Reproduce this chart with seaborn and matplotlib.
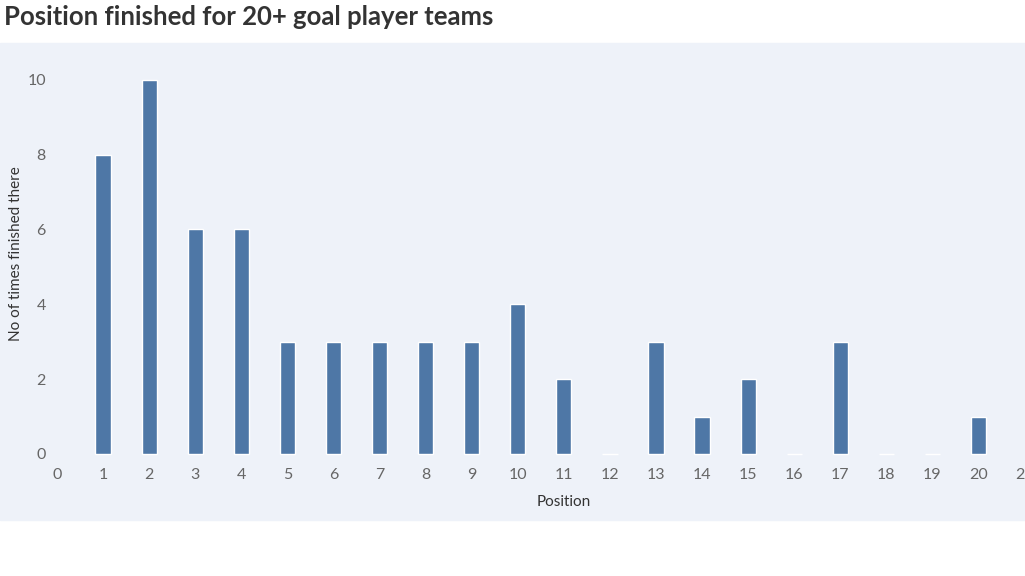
import matplotlib
matplotlib.use("Agg")
import matplotlib.pyplot as plt
import seaborn as sns
import pandas as pd
from matplotlib.patches import Rectangle

positions = list(range(1, 21))
counts = [8, 10, 6, 6, 3, 3, 3, 3, 3, 4, 2, 0, 3, 1, 2, 0, 3, 0, 0, 1]
xticks = list(range(0, 22))

sns.set_style("white")
plt.rcParams['font.family'] = ['Lato', 'DejaVu Sans']

fig = plt.figure(figsize=(10.25, 5.76), dpi=100)
fig.patches.append(Rectangle((0, 0.0972), 1, 0.828, transform=fig.transFigure,
                             color="#eef2f9", zorder=-10))
ax = fig.add_axes([0.0556, 0.198, 0.944, 0.698])
ax.set_facecolor("none")
df = pd.DataFrame({"Position": positions, "Count": counts})
sns.barplot(data=df, x="Position", y="Count", native_scale=True, width=0.33,
            color="#4e77a6", saturation=1, ax=ax)
ax.set_xlim(0, 20.617)
ax.set_ylim(-0.214, 10.53)
ax.set_xticks(xticks)
ax.set_yticks([0, 2, 4, 6, 8, 10])
ax.tick_params(axis="both", length=0, labelsize=11.5, colors="#666666")
ax.tick_params(axis="y", pad=8)
ax.tick_params(axis="x", pad=4)
for lbl in ax.get_xticklabels():
    lbl.set_clip_on(False)
for s in ax.spines.values():
    s.set_visible(False)
ax.set_xlabel("")
ax.set_ylabel("")
fig.text(0.016, 0.56, "No of times finished there", rotation=90, ha="center", va="center",
         fontsize=11, color="#333333")
fig.text(0.55, 0.128, "Position", ha="center", va="center", fontsize=11, color="#333333")
fig.text(0.004, 0.97, "Position finished for 20+ goal player teams", ha="left", va="center",
         fontsize=18.5, fontweight="bold", color="#333333")
fig.savefig("out.png", dpi=100)
